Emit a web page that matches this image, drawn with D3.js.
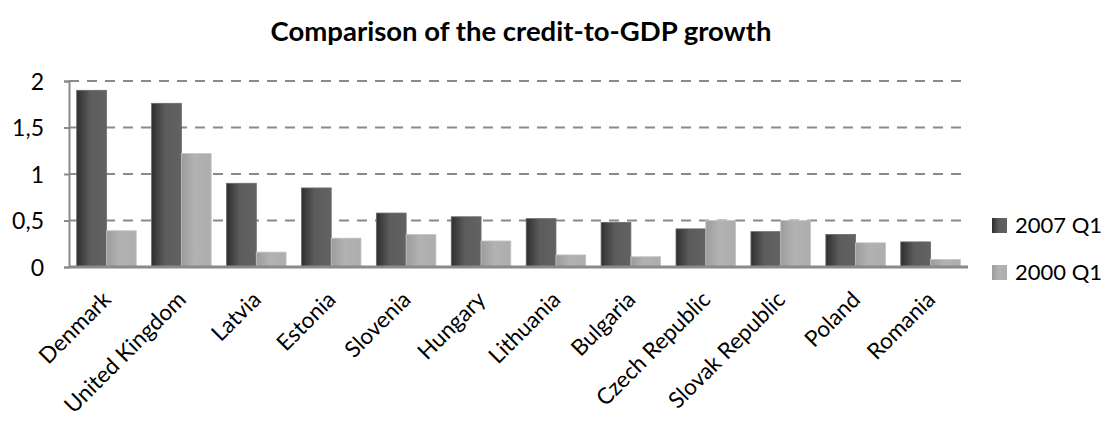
<!DOCTYPE html>
<html>
<head>
<meta charset="utf-8">
<script src="https://cdn.jsdelivr.net/npm/d3@7"></script>
<style>
  body { margin: 0; background: #fff; }
  text { font-family: Lato, "Open Sans", sans-serif; fill: #000; }
  .title { font-weight: bold; font-size: 27.5px; }
  .cat-label { font-size: 22.5px; }
  .legend-label { font-size: 22px; }
</style>
</head>
<body>
<div id="chart"></div>
<script>
const width = 1106;
const height = 421;

const countries = ["Denmark", "United Kingdom", "Latvia", "Estonia", "Slovenia", "Hungary",
    "Lithuania", "Bulgaria", "Czech Republic", "Slovak Republic", "Poland", "Romania"];
const q2007 = [1.90, 1.76, 0.90, 0.85, 0.58, 0.54, 0.52, 0.48, 0.41, 0.38, 0.35, 0.27];
const q2000 = [0.39, 1.22, 0.16, 0.31, 0.35, 0.28, 0.13, 0.11, 0.50, 0.50, 0.26, 0.08];
const seriesNames = ["2007 Q1", "2000 Q1"];
const yTicks = [0, 0.5, 1, 1.5, 2];
const yTickLabels = ["0", "0,5", "1", "1,5", "2"];

const plot = { left: 69, right: 968, top: 81, bottom: 267 };

const svg = d3.select("#chart")
    .append("svg")
    .attr("width", width)
    .attr("height", height);

// gradients for the bars, excel style
const defs = svg.append("defs");
const darkGrad = defs.append("linearGradient").attr("id", "grad-dark")
    .attr("x1", "0%").attr("x2", "100%").attr("y1", "0%").attr("y2", "0%");
darkGrad.append("stop").attr("offset", "0%").attr("stop-color", "#2f2f2f");
darkGrad.append("stop").attr("offset", "45%").attr("stop-color", "#5c5c5c");
darkGrad.append("stop").attr("offset", "100%").attr("stop-color", "#626262");

const lightGrad = defs.append("linearGradient").attr("id", "grad-light")
    .attr("x1", "0%").attr("x2", "100%").attr("y1", "0%").attr("y2", "0%");
lightGrad.append("stop").attr("offset", "0%").attr("stop-color", "#9c9c9c");
lightGrad.append("stop").attr("offset", "45%").attr("stop-color", "#b2b2b2");
lightGrad.append("stop").attr("offset", "100%").attr("stop-color", "#adadad");

const fills = ["url(#grad-dark)", "url(#grad-light)"];

const xScale = d3.scaleBand()
    .domain(countries)
    .range([plot.left, plot.right])
    .paddingInner(0.205)
    .paddingOuter(0.1025);

const xSub = d3.scaleBand()
    .domain([0, 1])
    .range([0, xScale.bandwidth()]);

const yScale = d3.scaleLinear()
    .domain([0, 2])
    .range([plot.bottom, plot.top]);

// grid
svg.append("g")
    .attr("class", "grid")
    .selectAll("line")
    .data(yTicks.filter(d => d > 0))
    .join("line")
    .attr("x1", plot.left)
    .attr("x2", plot.right)
    .attr("y1", d => yScale(d))
    .attr("y2", d => yScale(d))
    .attr("stroke", "#8a8a8a")
    .attr("stroke-width", 2)
    .attr("stroke-dasharray", "10 8");

// y axis
const leftAxis = d3.axisLeft(yScale)
    .tickValues(yTicks)
    .tickSize(5)
    .tickPadding(20)
    .tickFormat((d, i) => yTickLabels[i]);

const yAxisG = svg.append("g")
    .attr("class", "axis-y")
    .attr("transform", `translate(${plot.left}, 0)`)
    .call(leftAxis);
yAxisG.select(".domain").attr("stroke", "#8a8a8a").attr("stroke-width", 2);
yAxisG.selectAll(".tick line").attr("stroke", "#8a8a8a").attr("stroke-width", 2);
yAxisG.selectAll(".tick text")
    .attr("fill", "#000")
    .attr("dy", "0.36em")
    .style("font-size", "23px")
    .style("font-family", "Lato, 'Open Sans', sans-serif");

// bars
const groups = svg.append("g")
    .selectAll("g")
    .data(countries)
    .join("g")
    .attr("transform", d => `translate(${xScale(d)}, 0)`);

groups.selectAll("rect")
    .data((d, i) => [q2007[i], q2000[i]])
    .join("rect")
    .attr("x", (d, j) => xSub(j))
    .attr("y", d => yScale(d))
    .attr("width", xSub.bandwidth())
    .attr("height", d => yScale(0) - yScale(d))
    .attr("fill", (d, j) => fills[j])
    .attr("stroke", (d, j) => j === 0 ? "#6a6a6a" : "#c4c4c4")
    .attr("stroke-width", 0.8);

// x axis line
svg.append("line")
    .attr("x1", plot.left)
    .attr("x2", plot.right)
    .attr("y1", yScale(0))
    .attr("y2", yScale(0))
    .attr("stroke", "#8a8a8a")
    .attr("stroke-width", 3);

// category labels, rotated
svg.append("g")
    .selectAll("text")
    .data(countries)
    .join("text")
    .attr("class", "cat-label")
    .attr("text-anchor", "end")
    .attr("transform", d => `translate(${xScale(d) + xScale.bandwidth() / 2 + 6}, ${plot.bottom + 34}) rotate(-45)`)
    .text(d => d);

// title
svg.append("text")
    .attr("class", "title")
    .attr("x", 521)
    .attr("y", 41)
    .attr("text-anchor", "middle")
    .text("Comparison of the credit-to-GDP growth");

// legend
const legend = svg.append("g")
    .attr("transform", "translate(992, 218)");

const legendItems = legend.selectAll("g")
    .data(seriesNames)
    .join("g")
    .attr("transform", (d, i) => `translate(0, ${i * 47})`);

legendItems.append("rect")
    .attr("width", 15)
    .attr("height", 15)
    .attr("fill", (d, i) => fills[i]);

legendItems.append("text")
    .attr("class", "legend-label")
    .attr("x", 23)
    .attr("y", 14.5)
    .text(d => d);
</script>
</body>
</html>
